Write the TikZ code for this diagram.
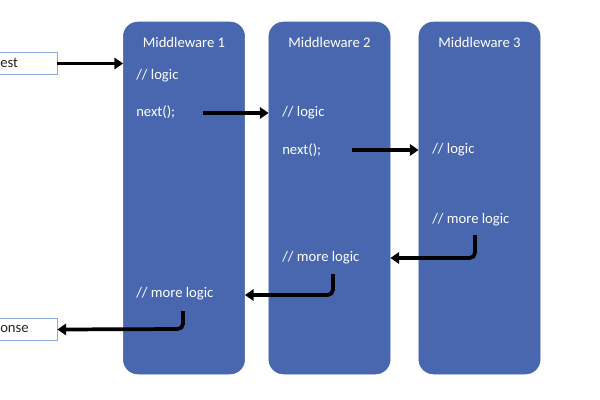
\documentclass[tikz,border=0pt]{standalone}
\usepackage{fontspec}
\setmainfont{Carlito}
\usetikzlibrary{arrows.meta}
\definecolor{mwblue}{RGB}{72,103,174}
\definecolor{edgeblue}{RGB}{143,170,220}
\tikzset{
  mwbox/.style={fill=mwblue, draw=mwblue, rounded corners=11pt, minimum width=91pt, minimum height=264pt, inner sep=0pt},
  mwtext/.style={anchor=west, inner sep=0.75pt, text=white, font=\fontsize{11}{13}\selectfont},
  endbox/.style={draw=edgeblue, line width=0.6pt, fill=white, minimum width=60pt, minimum height=16pt, inner sep=0pt},
  flow/.style={line width=2.8pt, -{Triangle[length=6.5pt,width=8.5pt]}, rounded corners=4pt}
}
\begin{document}
\begin{tikzpicture}[x=0.75pt,y=0.75pt,yscale=-1,xscale=1]
\useasboundingbox (0,0) rectangle (600,400);

%Middleware boxes
\node [mwbox] (mwa) at (184,198) {};
\node [mwbox] (mwb) at (329.5,198) {};
\node [mwbox] (mwc) at (479.5,198) {};

%Request / Response boxes, cut at the left edge
\node [endbox] (req) at (17,63.5) {};
\node [endbox] (resp) at (17,329.5) {};

% Text Node
\draw (-1,63) node [anchor=west][inner sep=0.75pt][text=black!85][font=\fontsize{11}{13}\selectfont] (reqtxt) {est};
% Text Node
\draw (-1,329) node [anchor=west][inner sep=0.75pt][text=black!85][font=\fontsize{11}{13}\selectfont] (resptxt) {onse};

% Text Node
\draw (184,42) node [mwtext, anchor=center] (titlea) {Middleware 1};
\draw (329.5,42) node [mwtext, anchor=center] (titleb) {Middleware 2};
\draw (479.5,42) node [mwtext, anchor=center] (titlec) {Middleware 3};

% Text Node
\draw (135,76) node [mwtext] (logica) {// logic};
\draw (135,112) node [mwtext] (nexta) {next();};
\draw (135,294) node [mwtext] (morea) {// more logic};
% Text Node
\draw (281,113) node [mwtext] (logicb) {// logic};
\draw (281,150) node [mwtext] (nextb) {next();};
\draw (281,258) node [mwtext] (moreb) {// more logic};
% Text Node
\draw (431,150) node [mwtext] (logicc) {// logic};
\draw (431,220) node [mwtext] (morec) {// more logic};

%Arrow ends
\coordinate (outa) at (203,113);
\coordinate (outb) at (352,150);
\coordinate (backc) at (475,235);
\coordinate (backb) at (333,274);
\coordinate (backa) at (183,311);

%Straight Lines
\draw [flow] (req.east) -- (mwa.west |- req.east);
\draw [flow] (outa) -- (mwb.west |- outa);
\draw [flow] (outb) -- (mwc.west |- outb);
%Elbow Lines
\draw [flow] (backc) -- (475,258) -- (mwb.east |- 0,258);
\draw [flow] (backb) -- (333,295) -- (mwa.east |- 0,295);
\draw [flow] (backa) -- (183,329) -- (resp.east);
\end{tikzpicture}
\end{document}
